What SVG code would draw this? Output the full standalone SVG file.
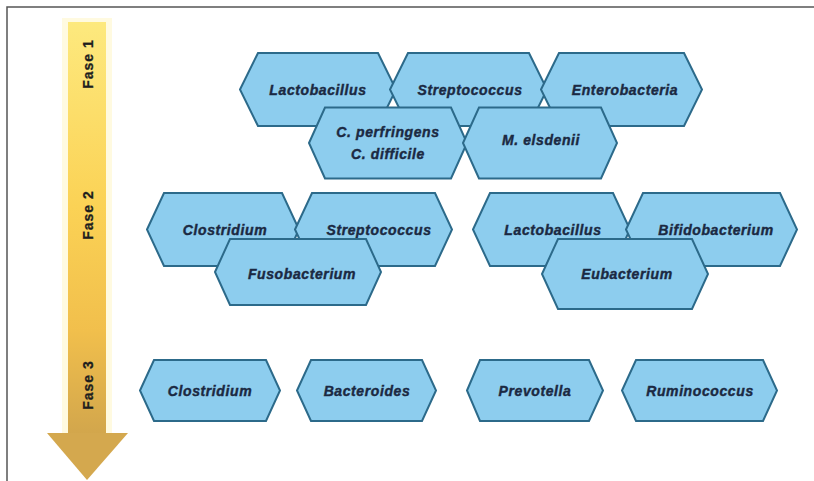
<svg xmlns="http://www.w3.org/2000/svg" width="814" height="481" viewBox="0 0 814 481">
<defs>
<linearGradient id="bar" x1="0" y1="0" x2="0" y2="1">
<stop offset="0" stop-color="#fde97e"/>
<stop offset="0.45" stop-color="#fbd255"/>
<stop offset="0.75" stop-color="#f1bf4c"/>
<stop offset="1" stop-color="#d2a64c"/>
</linearGradient>
<style>
.hex{fill:#8dcdee;stroke:#2c6a8a;stroke-width:2;stroke-linejoin:miter}
.lbl{font-family:"Liberation Sans",Arial,sans-serif;font-weight:bold;font-style:italic;font-size:14px;letter-spacing:0.6px;fill:#1b2942;stroke:#1b2942;stroke-width:0.4px;text-anchor:middle}
.fase{font-family:"Liberation Sans",Arial,sans-serif;font-weight:bold;font-size:14px;letter-spacing:1px;fill:#1e1e1e;stroke:#1e1e1e;stroke-width:0.3px;text-anchor:middle}
</style>
</defs>
<rect width="814" height="481" fill="#ffffff"/>
<path d="M7,481 V7 H814" fill="none" stroke="#555555" stroke-width="1.5"/>
<g id="phase-arrow">
<rect x="62" y="18" width="50" height="420" fill="#fff6cc" opacity="0.6"/>
<rect x="68" y="22" width="38" height="412" fill="url(#bar)"/>
<polygon points="47,433 128,433 87,480" fill="#d4a84e"/>
<text class="fase" transform="translate(88,64) rotate(-90)" dy="5">Fase 1</text>
<text class="fase" transform="translate(88,215) rotate(-90)" dy="5">Fase 2</text>
<text class="fase" transform="translate(88,385) rotate(-90)" dy="5">Fase 3</text>
</g>
<g id="f1-lactobacillus"><path class="hex" d="M240,89.5 L258,53 L378,53 L396,89.5 L378,126 L258,126 Z"/><text class="lbl" x="318" y="94.5">Lactobacillus</text></g>
<g id="f1-streptococcus"><path class="hex" d="M390,89.5 L408,53 L529,53 L547,89.5 L529,126 L408,126 Z"/><text class="lbl" x="470" y="94.5">Streptococcus</text></g>
<g id="f1-enterobacteria"><path class="hex" d="M541,89.5 L559,53 L684,53 L702,89.5 L684,126 L559,126 Z"/><text class="lbl" x="625" y="94.5">Enterobacteria</text></g>
<g id="f1-cperfringens"><path class="hex" d="M309,143 L325,107.5 L451,107.5 L467,143 L451,178.5 L325,178.5 Z"/><text class="lbl" x="388" y="137">C. perfringens</text><text class="lbl" x="388" y="159">C. difficile</text></g>
<g id="f1-melsdenii"><path class="hex" d="M463,143 L479,107.5 L601,107.5 L617,143 L601,178.5 L479,178.5 Z"/><text class="lbl" x="541" y="145">M. elsdenii</text></g>
<g id="f2-clostridium"><path class="hex" d="M147,229.5 L164,193 L282,193 L299,229.5 L282,266 L164,266 Z"/><text class="lbl" x="225" y="234.5">Clostridium</text></g>
<g id="f2-streptococcus"><path class="hex" d="M295,229.5 L312,193 L435,193 L452,229.5 L435,266 L312,266 Z"/><text class="lbl" x="379" y="234.5">Streptococcus</text></g>
<g id="f2-fusobacterium"><path class="hex" d="M215,272 L230,239 L366,239 L381,272 L366,305 L230,305 Z"/><text class="lbl" x="302" y="279">Fusobacterium</text></g>
<g id="f2-lactobacillus"><path class="hex" d="M473,229.5 L490,193 L613,193 L630,229.5 L613,266 L490,266 Z"/><text class="lbl" x="553" y="234.5">Lactobacillus</text></g>
<g id="f2-bifidobacterium"><path class="hex" d="M626,229.5 L643,193 L780,193 L797,229.5 L780,266 L643,266 Z"/><text class="lbl" x="716" y="234.5">Bifidobacterium</text></g>
<g id="f2-eubacterium"><path class="hex" d="M542,274 L558,239 L692,239 L708,274 L692,309 L558,309 Z"/><text class="lbl" x="627" y="279">Eubacterium</text></g>
<g id="f3-clostridium"><path class="hex" d="M140,390.5 L154,360 L266,360 L280,390.5 L266,421 L154,421 Z"/><text class="lbl" x="210" y="395.5">Clostridium</text></g>
<g id="f3-bacteroides"><path class="hex" d="M297,390.5 L311,360 L422,360 L436,390.5 L422,421 L311,421 Z"/><text class="lbl" x="367" y="395.5">Bacteroides</text></g>
<g id="f3-prevotella"><path class="hex" d="M467,390.5 L480,360 L589,360 L603,390.5 L589,421 L480,421 Z"/><text class="lbl" x="535" y="395.5">Prevotella</text></g>
<g id="f3-ruminococcus"><path class="hex" d="M622,390.5 L636,360 L763,360 L777,390.5 L763,421 L636,421 Z"/><text class="lbl" x="700" y="395.5">Ruminococcus</text></g>
<g id="connectors"/>
</svg>
